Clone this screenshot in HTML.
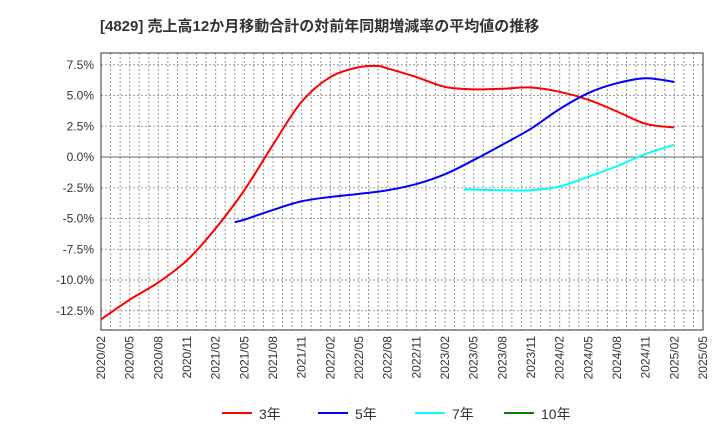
<!DOCTYPE html>
<html><head><meta charset="utf-8"><style>
body{margin:0;background:#fff;font-family:"Liberation Sans","Noto Sans CJK JP",sans-serif}
</style></head><body>
<svg id="c" width="720" height="440" xmlns="http://www.w3.org/2000/svg" style="font-family:'Liberation Sans','Noto Sans CJK JP',sans-serif">
<text x="100" y="31" font-size="15" font-weight="bold" fill="#333">[4829]  売上高12か月移動合計の対前年同期増減率の平均値の推移</text>
</svg>
<script>
const yTicks=[7.5,5.0,2.5,0.0,-2.5,-5.0,-7.5,-10.0,-12.5];
const xLabels=["2020/02","2020/05","2020/08","2020/11","2021/02","2021/05","2021/08","2021/11","2022/02","2022/05","2022/08","2022/11","2023/02","2023/05","2023/08","2023/11","2024/02","2024/05","2024/08","2024/11","2025/02","2025/05"];
// month index from 2020/02
const m3=[0,3,6,9,12,15,18,21,24,27,29,30,33,36,39,42,45,48,51,54,57,60];
const v3=[-13.2,-11.6,-10.2,-8.4,-5.8,-2.7,1.0,4.5,6.5,7.3,7.4,7.2,6.5,5.7,5.5,5.55,5.65,5.3,4.65,3.7,2.7,2.4];
const m5=[14,15,18,21,24,27,30,33,36,39,42,45,48,51,54,57,60];
const v5=[-5.3,-5.1,-4.3,-3.6,-3.25,-3.0,-2.7,-2.2,-1.4,-0.25,1.0,2.3,3.9,5.2,6.0,6.4,6.1];
const m7=[38,39,42,45,48,51,54,57,60];
const v7=[-2.65,-2.65,-2.7,-2.7,-2.4,-1.6,-0.75,0.25,1.0];
const L=101,R=703,T=53,B=330;
const X=m=>L+(R-L)*m/63;
const Y=v=>157-v*12.3;
const svg=document.getElementById('c');
const NS="http://www.w3.org/2000/svg";
function mk(t,a){const e=document.createElementNS(NS,t);for(const k in a)e.setAttribute(k,a[k]);svg.appendChild(e);return e;}
for(let m=1;m<63;m++){const l=mk('line',{x1:X(m),x2:X(m),y1:T,y2:B,stroke:'#999','stroke-dasharray':'2,2','stroke-width':1});

}
yTicks.forEach(v=>{const l=mk('line',{x1:L,x2:R,y1:Y(v),y2:Y(v),stroke:v===0?'#666':'#999','stroke-dasharray':v===0?'':'2,2','stroke-width':1});


const t=mk('text',{x:L-7,y:Y(v)+4,'text-anchor':'end','font-size':12,fill:'#333'});t.textContent=v.toFixed(1)+'%';

});
const fr=mk('rect',{x:L,y:T,width:R-L,height:B-T,fill:'none',stroke:'#333','stroke-width':1});


xLabels.forEach((s,i)=>{const x=X(i*3);const t=mk('text',{transform:`translate(${x+4},${B+6}) rotate(-90)`,'text-anchor':'end','font-size':12,fill:'#333'});t.textContent=s;

});
function path(ms,vs){const p=ms.map((m,i)=>[X(m),Y(vs[i])]);let d=`M${p[0][0]},${p[0][1]}`;
for(let i=0;i<p.length-1;i++){const p0=p[i-1]||p[i],p1=p[i],p2=p[i+1],p3=p[i+2]||p2;
d+=` C${p1[0]+(p2[0]-p0[0])/6},${p1[1]+(p2[1]-p0[1])/6} ${p2[0]-(p3[0]-p1[0])/6},${p2[1]-(p3[1]-p1[1])/6} ${p2[0]},${p2[1]}`;}return d;}
[[m3,v3,'#ff0000','series-3yr'],[m5,v5,'#0000ff','series-5yr'],[m7,v7,'#00ffff','series-7yr']].forEach(s=>{
const p=mk('path',{d:path(s[0],s[1]),fill:'none',stroke:s[2],'stroke-width':2});

});
[['3年','#ff0000',222],['5年','#0000ff',318],['7年','#00ffff',415],['10年','#008000',504]].forEach(l=>{
const g=mk('line',{x1:l[2],x2:l[2]+30,y1:413,y2:413,stroke:l[1],'stroke-width':2});


const t=mk('text',{x:l[2]+37,y:419,'font-size':14,fill:'#333'});t.textContent=l[0];

});
</script>
</body></html>
